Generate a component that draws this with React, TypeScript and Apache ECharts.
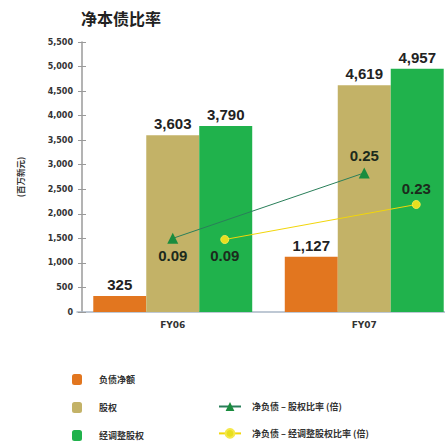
import React, { useEffect, useRef } from "react";
import * as echarts from "echarts";

const title = "净本债比率";
const unitName = "(百万新元)";
const categories = ["FY06", "FY07"];
const netDebt = [325, 1127];
const equity = [3603, 4619];
const adjEquity = [3790, 4957];
const ratioEquity = [0.09, 0.25];
const ratioAdj = [0.09, 0.23];
const ratioEquityLabelPos = ["bottom", "top"];
const ratioAdjLabelPos = ["bottom", "top"];
const yMin = 0;
const yMax = 5500;
const yInterval = 500;

const names = {
  netDebt: "负债净额",
  equity: "股权",
  adjEquity: "经调整股权",
  ratioEquity: "净负债 – 股权比率 (倍)",
  ratioAdj: "净负债 – 经调整股权比率 (倍)",
};

const NUM_FONT = "'Liberation Sans', Arial, sans-serif";
const AXIS_FONT = "'DejaVu Sans', sans-serif";
const CJK_FONT = "'Noto Sans CJK SC', sans-serif";

export default function App() {
  const ref = useRef<HTMLDivElement>(null);
  useEffect(() => {
    if (!ref.current) return;
    const chart = echarts.init(ref.current, null, { renderer: "svg" });
    const barLabel = {
      show: true,
      position: "top",
      distance: 4,
      fontFamily: NUM_FONT,
      fontWeight: "bold",
      fontSize: 15,
      color: "#222",
      formatter: (p: any) => Number(p.value).toLocaleString("en-US"),
    };
    const lineLabel = {
      show: true,
      distance: 4,
      fontFamily: NUM_FONT,
      fontWeight: "bold",
      fontSize: 15,
      color: "#1c2a1c",
      formatter: (p: any) => Number(p.value).toFixed(2),
    };
    chart.setOption({
      animation: false,
      backgroundColor: "#fff",
      title: {
        text: title,
        left: 76,
        top: 5,
        textStyle: { fontFamily: CJK_FONT, fontWeight: "bold", fontSize: 16, color: "#222" },
      },
      grid: [
        { left: 77, width: 383, top: 42, height: 270, outerBoundsMode: "none", containLabel: false },
        { left: 129, width: 383, top: 42, height: 270, outerBoundsMode: "none", containLabel: false },
      ],
      legend: [
        {
          orient: "vertical",
          left: 72,
          top: 374,
          padding: 0,
          itemWidth: 10,
          itemHeight: 11,
          itemGap: 17,
          data: [names.netDebt, names.equity, names.adjEquity],
          textStyle: { fontFamily: CJK_FONT, fontWeight: "bold", fontSize: 9, color: "#333", padding: [0, 0, 0, 12] },
        },
        {
          orient: "vertical",
          left: 218,
          top: 402,
          padding: 0,
          itemWidth: 22,
          itemHeight: 11,
          itemGap: 17,
          data: [names.ratioEquity, names.ratioAdj],
          textStyle: { fontFamily: CJK_FONT, fontWeight: "bold", fontSize: 9, color: "#333", padding: [0, 0, 0, 6] },
        },
      ],
      xAxis: [
        {
          type: "category",
          gridIndex: 0,
          data: categories,
          axisLine: { lineStyle: { color: "#a9b7c6", width: 1.5 } },
          axisTick: { show: false },
          axisLabel: { fontFamily: AXIS_FONT, fontWeight: "bold", fontSize: 9, color: "#333", margin: 8 },
        },
        { type: "category", gridIndex: 1, data: categories, show: false },
      ],
      yAxis: [
        {
          type: "value",
          gridIndex: 0,
          min: yMin,
          max: yMax,
          interval: yInterval,
          offset: -5,
          name: unitName,
          nameLocation: "middle",
          nameRotate: 90,
          nameGap: 58,
          nameTextStyle: { fontFamily: CJK_FONT, fontWeight: "bold", fontSize: 8.5, color: "#333" },
          axisLine: { show: true, lineStyle: { color: "#9a9a9a", width: 1.5 } },
          axisTick: { show: true, length: 4, lineStyle: { color: "#9a9a9a" } },
          axisLabel: {
            fontFamily: AXIS_FONT,
            fontWeight: "bold",
            fontSize: 8,
            color: "#333",
            margin: 9,
            formatter: (v: number) => v.toLocaleString("en-US"),
          },
          splitLine: { show: false },
        },
        {
          type: "value",
          gridIndex: 0,
          min: yMin,
          max: yMax,
          interval: yInterval,
          offset: -5,
          position: "left",
          axisLine: { show: false },
          axisTick: { show: true, inside: true, length: 4, lineStyle: { color: "#9a9a9a" } },
          axisLabel: { show: false },
          splitLine: { show: false },
        },
        { type: "value", gridIndex: 0, min: -0.09, max: 0.57, show: false, splitLine: { show: false } },
        { type: "value", gridIndex: 1, min: -0.2, max: 0.88, show: false, splitLine: { show: false } },
      ],
      series: [
        {
          name: names.netDebt,
          type: "bar",
          xAxisIndex: 0,
          yAxisIndex: 0,
          data: netDebt,
          barGap: "0%",
          barCategoryGap: "17%",
          itemStyle: { color: "#e2761f" },
          label: barLabel,
        },
        {
          name: names.equity,
          type: "bar",
          xAxisIndex: 0,
          yAxisIndex: 0,
          data: equity,
          barGap: "0%",
          barCategoryGap: "17%",
          itemStyle: { color: "#c3b267" },
          label: barLabel,
        },
        {
          name: names.adjEquity,
          type: "bar",
          xAxisIndex: 0,
          yAxisIndex: 0,
          data: adjEquity,
          barGap: "0%",
          barCategoryGap: "17%",
          itemStyle: { color: "#20b24c" },
          label: barLabel,
        },
        {
          name: names.ratioEquity,
          type: "line",
          xAxisIndex: 0,
          yAxisIndex: 2,
          data: ratioEquity.map((v, i) => ({ value: v, label: { position: ratioEquityLabelPos[i] } })),
          symbol: "triangle",
          symbolSize: 11,
          lineStyle: { color: "#2a7f5a", width: 1 },
          itemStyle: { color: "#1a8c3e" },
          label: lineLabel,
          z: 5,
        },
        {
          name: names.ratioAdj,
          type: "line",
          xAxisIndex: 1,
          yAxisIndex: 3,
          data: ratioAdj.map((v, i) => ({ value: v, label: { position: ratioAdjLabelPos[i] } })),
          symbol: "circle",
          symbolSize: 8,
          lineStyle: { color: "#f2d60a", width: 1 },
          itemStyle: { color: "#e8df1e", borderColor: "#f5e84a", borderWidth: 1 },
          label: lineLabel,
          z: 5,
        },
      ],
    });
    return () => chart.dispose();
  }, []);
  return <div ref={ref} style={{ width: 445, height: 444, position: "absolute", left: 0, top: 0 }} />;
}
